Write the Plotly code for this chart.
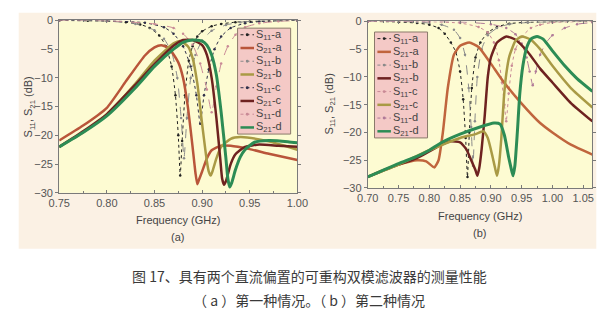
import plotly.graph_objects as go

W, H = 615, 324

# ---------------- Panel (a) data ----------------
a_s21a_x = [0.75, 0.775, 0.80, 0.82, 0.84, 0.85, 0.857, 0.865, 0.875, 0.88, 0.885, 0.89, 0.893, 0.895, 0.897, 0.90, 0.905, 0.91, 0.92, 0.93, 0.95, 0.97, 1.00]
a_s21a_y = [-20.9, -18.3, -15.2, -10.6, -6.1, -4.7, -4.3, -4.8, -7.3, -10.0, -15.0, -22.0, -26.5, -28.5, -27.6, -26.3, -24.0, -22.6, -21.8, -21.8, -22.4, -23.2, -24.3]

a_s21b_x = [0.75, 0.775, 0.80, 0.83, 0.85, 0.87, 0.877, 0.885, 0.89, 0.895, 0.90, 0.905, 0.907, 0.909, 0.911, 0.915, 0.92, 0.93, 0.94, 0.96, 0.98, 1.00]
a_s21b_y = [-22.0, -19.5, -16.4, -11.0, -7.0, -4.0, -3.6, -4.5, -6.5, -11.0, -18.0, -24.5, -26.3, -27.0, -26.2, -24.0, -22.0, -20.6, -20.3, -20.7, -21.5, -22.5]

a_s21c_x = [0.75, 0.775, 0.80, 0.83, 0.85, 0.87, 0.88, 0.89, 0.90, 0.905, 0.91, 0.915, 0.919, 0.921, 0.923, 0.925, 0.93, 0.935, 0.945, 0.96, 0.98, 1.00]
a_s21c_y = [-22.0, -19.3, -16.3, -11.2, -7.6, -4.4, -3.4, -3.4, -4.3, -6.0, -10.0, -17.0, -24.0, -27.5, -28.6, -28.0, -25.0, -23.3, -22.0, -21.6, -21.8, -22.0]

a_s21d_x = [0.75, 0.775, 0.80, 0.83, 0.85, 0.87, 0.88, 0.89, 0.90, 0.905, 0.91, 0.915, 0.92, 0.925, 0.927, 0.929, 0.931, 0.935, 0.94, 0.945, 0.955, 0.97, 0.99, 1.00]
a_s21d_y = [-22.0, -19.5, -16.6, -11.7, -8.0, -5.0, -3.8, -3.4, -3.6, -4.3, -6.0, -9.5, -16.0, -24.0, -27.5, -29.0, -28.3, -26.0, -23.8, -22.5, -21.2, -20.9, -21.1, -21.3]

a_s11a_x = [0.75, 0.78, 0.80, 0.82, 0.835, 0.845, 0.855, 0.862, 0.868, 0.872, 0.875, 0.877, 0.879, 0.882, 0.886, 0.89, 0.895, 0.90, 0.91, 0.92, 0.935, 0.95, 0.97, 1.00]
a_s11a_y = [0.0, -0.05, -0.1, -0.3, -0.7, -1.3, -2.6, -4.5, -8.0, -13.0, -20.0, -27.0, -21.0, -13.0, -7.0, -4.5, -2.8, -1.9, -1.0, -0.6, -0.3, -0.15, -0.05, 0.0]

a_s11b_x = [0.75, 0.80, 0.83, 0.85, 0.86, 0.868, 0.874, 0.878, 0.881, 0.884, 0.888, 0.893, 0.90, 0.91, 0.925, 0.94, 0.96, 1.00]
a_s11b_y = [0.0, -0.1, -0.6, -1.7, -3.2, -5.5, -10.0, -17.0, -24.0, -17.0, -10.0, -6.0, -3.5, -1.8, -0.8, -0.3, -0.1, 0.0]

a_s11c_x = [0.75, 0.80, 0.84, 0.86, 0.87, 0.88, 0.888, 0.894, 0.898, 0.902, 0.907, 0.913, 0.92, 0.93, 0.945, 0.96, 0.98, 1.00]
a_s11c_y = [0.0, -0.05, -0.4, -1.2, -2.3, -4.5, -8.0, -13.0, -18.0, -13.0, -8.5, -5.0, -2.8, -1.3, -0.5, -0.2, -0.05, 0.0]

a_s11d_x = [0.75, 0.80, 0.85, 0.87, 0.88, 0.89, 0.898, 0.905, 0.91, 0.915, 0.92, 0.927, 0.935, 0.945, 0.96, 0.98, 1.00]
a_s11d_y = [0.0, -0.05, -0.6, -1.3, -2.3, -4.2, -7.5, -12.0, -16.0, -11.5, -7.5, -4.5, -2.5, -1.2, -0.5, -0.15, 0.0]

# ---------------- Panel (b) data ----------------
b_s21a_x = [0.70, 0.72, 0.75, 0.78, 0.795, 0.808, 0.815, 0.822, 0.83, 0.84, 0.85, 0.865, 0.88, 0.90, 0.92, 0.95, 0.98, 1.00, 1.03, 1.065]
b_s21a_y = [-28.0, -27.0, -25.8, -25.0, -25.2, -26.3, -25.0, -20.0, -12.0, -6.0, -4.4, -3.8, -4.6, -7.6, -10.8, -14.8, -18.3, -20.0, -22.2, -24.0]

b_s21b_x = [0.70, 0.75, 0.78, 0.80, 0.82, 0.835, 0.85, 0.86, 0.87, 0.875, 0.878, 0.881, 0.885, 0.89, 0.895, 0.90, 0.91, 0.925, 0.94, 0.96, 0.98, 1.00, 1.03, 1.065]
b_s21b_y = [-28.0, -25.8, -24.6, -23.4, -22.2, -21.6, -21.8, -23.0, -25.5, -26.8, -27.8, -26.5, -23.0, -17.0, -10.0, -6.5, -3.8, -2.7, -3.3, -5.5, -8.5, -11.0, -14.7, -18.0]

b_s21c_x = [0.70, 0.75, 0.80, 0.85, 0.875, 0.888, 0.895, 0.903, 0.907, 0.91, 0.913, 0.917, 0.921, 0.925, 0.93, 0.94, 0.95, 0.965, 0.98, 1.00, 1.03, 1.065]
b_s21c_y = [-28.0, -25.8, -23.2, -21.0, -20.3, -19.8, -21.0, -24.5, -26.5, -27.8, -26.0, -21.0, -14.0, -9.5, -6.3, -3.5, -2.7, -3.3, -5.0, -8.0, -12.0, -15.5]

b_s21d_x = [0.70, 0.75, 0.78, 0.80, 0.82, 0.85, 0.88, 0.905, 0.915, 0.922, 0.929, 0.933, 0.936, 0.939, 0.943, 0.947, 0.952, 0.958, 0.965, 0.975, 0.985, 1.00, 1.02, 1.04, 1.065]
b_s21d_y = [-28.0, -25.6, -24.3, -23.2, -21.8, -20.3, -19.1, -18.3, -18.5, -20.5, -24.5, -26.5, -27.8, -26.0, -20.0, -13.0, -8.0, -4.8, -3.2, -2.7, -3.2, -5.3, -8.0, -10.3, -12.6]

b_s11a_x = [0.70, 0.75, 0.78, 0.80, 0.815, 0.825, 0.835, 0.843, 0.85, 0.855, 0.859, 0.862, 0.865, 0.869, 0.875, 0.883, 0.895, 0.91, 0.93, 0.96, 1.00, 1.065]
b_s11a_y = [0.0, -0.1, -0.3, -0.6, -1.2, -2.2, -3.8, -5.5, -9.0, -14.0, -21.0, -28.0, -20.0, -12.0, -6.5, -3.8, -2.0, -1.0, -0.4, -0.15, -0.05, 0.0]

b_s11b_x = [0.70, 0.78, 0.82, 0.84, 0.85, 0.858, 0.864, 0.868, 0.871, 0.874, 0.878, 0.885, 0.895, 0.91, 0.93, 0.96, 1.00, 1.065]
b_s11b_y = [0.0, -0.1, -0.6, -1.5, -3.0, -6.0, -12.0, -19.0, -26.0, -18.0, -10.0, -5.0, -2.5, -1.2, -0.5, -0.2, -0.05, 0.0]

b_s11c_x = [0.70, 0.80, 0.85, 0.88, 0.895, 0.905, 0.913, 0.918, 0.922, 0.925, 0.929, 0.934, 0.94, 0.95, 0.965, 0.98, 1.00, 1.065]
b_s11c_y = [0.0, -0.05, -0.3, -1.0, -2.0, -3.8, -7.0, -11.0, -15.0, -18.0, -13.0, -8.0, -5.0, -2.8, -1.2, -0.6, -0.2, 0.0]

b_s11d_x = [0.70, 0.85, 0.90, 0.925, 0.94, 0.95, 0.958, 0.963, 0.968, 0.973, 0.98, 0.99, 1.00, 1.02, 1.04, 1.065]
b_s11d_y = [0.0, -0.1, -0.5, -1.2, -2.3, -4.0, -6.5, -9.0, -11.5, -9.0, -6.0, -3.8, -2.5, -1.2, -0.5, -0.2]

legend_labels = ["S<sub>11</sub>-a", "S<sub>21</sub>-a", "S<sub>11</sub>-b", "S<sub>21</sub>-b",
                 "S<sub>11</sub>-c", "S<sub>21</sub>-c", "S<sub>11</sub>-d", "S<sub>21</sub>-d"]

# styles
C_RED = "#b9553a"
C_OLIVE = "#a99a45"
C_MAROON = "#6e2220"
C_GREEN = "#2c8c55"
C_ORANGE = "#c0653d"
S11_COLORS_A = ["#222222", "#8a8a8a", "#2f2f4a", "#c98a96"]
S11_COLORS_B = ["#222222", "#8a8a8a", "#c98a96", "#b07a98"]

panel_a = {
    "s11": [(a_s11a_x, a_s11a_y), (a_s11b_x, a_s11b_y), (a_s11c_x, a_s11c_y), (a_s11d_x, a_s11d_y)],
    "s21": [(a_s21a_x, a_s21a_y), (a_s21b_x, a_s21b_y), (a_s21c_x, a_s21c_y), (a_s21d_x, a_s21d_y)],
    "s21c": [C_RED, C_OLIVE, C_MAROON, C_GREEN],
    "s11c": S11_COLORS_A,
}
panel_b = {
    "s11": [(b_s11a_x, b_s11a_y), (b_s11b_x, b_s11b_y), (b_s11c_x, b_s11c_y), (b_s11d_x, b_s11d_y)],
    "s21": [(b_s21a_x, b_s21a_y), (b_s21b_x, b_s21b_y), (b_s21c_x, b_s21c_y), (b_s21d_x, b_s21d_y)],
    "s21c": [C_ORANGE, C_MAROON, C_OLIVE, C_GREEN],
    "s11c": S11_COLORS_B,
}

fig = go.Figure()
dashes = ["dot", "dash", "dot", "dash"]

def add_panel(p, xa, ya):
    for i in range(4):
        x, y = p["s11"][i]
        fig.add_trace(go.Scatter(x=x, y=y, xaxis=xa, yaxis=ya, mode="lines+markers",
                                 line=dict(color=p["s11c"][i], width=1, dash=dashes[i], shape="spline", smoothing=0.5),
                                 marker=dict(size=2.5, color=p["s11c"][i]), showlegend=False))
    for i in range(4):
        x, y = p["s21"][i]
        fig.add_trace(go.Scatter(x=x, y=y, xaxis=xa, yaxis=ya, mode="lines",
                                 line=dict(color=p["s21c"][i], width=3.0 if i == 3 else 2.5, shape="spline", smoothing=0.5),
                                 showlegend=False))

add_panel(panel_a, "x", "y")
add_panel(panel_b, "x2", "y2")

def px(x):
    return x / W

def py(y):
    return 1 - y / H

shapes = []
annotations = []
# beige image background
shapes.append(dict(type="rect", xref="paper", yref="paper", x0=px(8), x1=px(607), y0=py(252), y1=py(7),
                   fillcolor="#fbf1e4", line=dict(width=0), layer="below"))
# plot area backgrounds
for xd, yd in [("x domain", "y domain"), ("x2 domain", "y2 domain")]:
    shapes.append(dict(type="rect", xref=xd, yref=yd, x0=0, x1=1, y0=0, y1=1,
                       fillcolor="#fdfbd2", line=dict(width=0), layer="below"))

def add_legend(left, top, right, bottom, s11cols, s21cols):
    shapes.append(dict(type="rect", xref="paper", yref="paper", x0=px(left), x1=px(right), y0=py(bottom), y1=py(top),
                       fillcolor="#f4c9c6", line=dict(color="#8a7a6a", width=1), layer="above"))
    step = (bottom - top) / 8.0
    for k in range(8):
        yc = top + step * (k + 0.5)
        idx = k // 2
        if k % 2 == 0:
            col = s11cols[idx]
            shapes.append(dict(type="line", xref="paper", yref="paper", x0=px(left + 3), x1=px(left + 17),
                               y0=py(yc), y1=py(yc), line=dict(color=col, width=1, dash="dot"), layer="above"))
            shapes.append(dict(type="circle", xref="paper", yref="paper", x0=px(left + 8.5), x1=px(left + 11.5),
                               y0=py(yc + 1.5), y1=py(yc - 1.5), fillcolor=col, line=dict(width=0), layer="above"))
        else:
            col = s21cols[idx]
            shapes.append(dict(type="line", xref="paper", yref="paper", x0=px(left + 3), x1=px(left + 17),
                               y0=py(yc), y1=py(yc), line=dict(color=col, width=2.5), layer="above"))
        annotations.append(dict(x=px(left + 17), y=py(yc), xref="paper", yref="paper", xanchor="left", yanchor="middle",
                                text=legend_labels[k], showarrow=False,
                                font=dict(size=11, color="#444444", family="Liberation Sans")))

add_legend(235, 23, 290, 133, S11_COLORS_A, panel_a["s21c"])
add_legend(377, 27, 432, 137, S11_COLORS_B, panel_b["s21c"])

tickfont = dict(size=11, color="#555555", family="Liberation Sans")
axis_common = dict(showgrid=False, zeroline=False, showline=True, linecolor="#7a7a7a", linewidth=1,
                   mirror="ticks", tickfont=tickfont, ticklen=3, tickcolor="#7a7a7a")

fig.update_layout(
    width=W, height=H, margin=dict(l=0, r=0, t=0, b=0),
    paper_bgcolor="white", plot_bgcolor="rgba(0,0,0,0)",
    showlegend=False,
    xaxis=dict(domain=[px(50), px(297)], range=[0.75, 1.00], dtick=0.05, tickformat=".2f", anchor="y",
               ticks="inside", minor=dict(dtick=0.025, ticklen=2, tickcolor="#7a7a7a", ticks="inside"), **axis_common),
    yaxis=dict(domain=[py(194), py(15)], range=[-30, 0], dtick=5, anchor="x", ticks="outside", **axis_common),
    xaxis2=dict(domain=[px(370), px(603)], range=[0.70, 1.065], dtick=0.05, tickformat=".2f", anchor="y2",
                ticks="inside", minor=dict(dtick=0.025, ticklen=2, tickcolor="#7a7a7a", ticks="inside"), **axis_common),
    yaxis2=dict(domain=[py(189), py(16)], range=[-30, 0], dtick=5, anchor="x2", ticks="outside", **axis_common),
    shapes=shapes,
)

txt = dict(size=11, color="#444444", family="Liberation Sans")
cap = dict(size=14, color="#3a3a3a", family="Noto Sans CJK SC")
annotations += [
    dict(x=px(173), y=py(222), text="Frequency (GHz)", font=txt),
    dict(x=px(173), y=py(240), text="(a)", font=txt),
    dict(x=px(486), y=py(218), text="Frequency (GHz)", font=txt),
    dict(x=px(486), y=py(236), text="(b)", font=txt),
    dict(x=px(19), y=py(105), text="S<sub>11</sub>, S<sub>21</sub> (dB)", textangle=-90, font=txt),
    dict(x=px(331), y=py(102), text="S<sub>11</sub>, S<sub>21</sub> (dB)", textangle=-90, font=txt),
    dict(x=px(310), y=py(280), text="图 17、具有两个直流偏置的可重构双模滤波器的测量性能", font=cap),
    dict(x=px(309), y=py(305), text="（ a ）第一种情况。（ b ）第二种情况", font=cap),
]
for a in annotations[-8:]:
    a.update(xref="paper", yref="paper", showarrow=False, xanchor="center", yanchor="middle")
fig.update_layout(annotations=annotations)

fig.write_html("out.html")
